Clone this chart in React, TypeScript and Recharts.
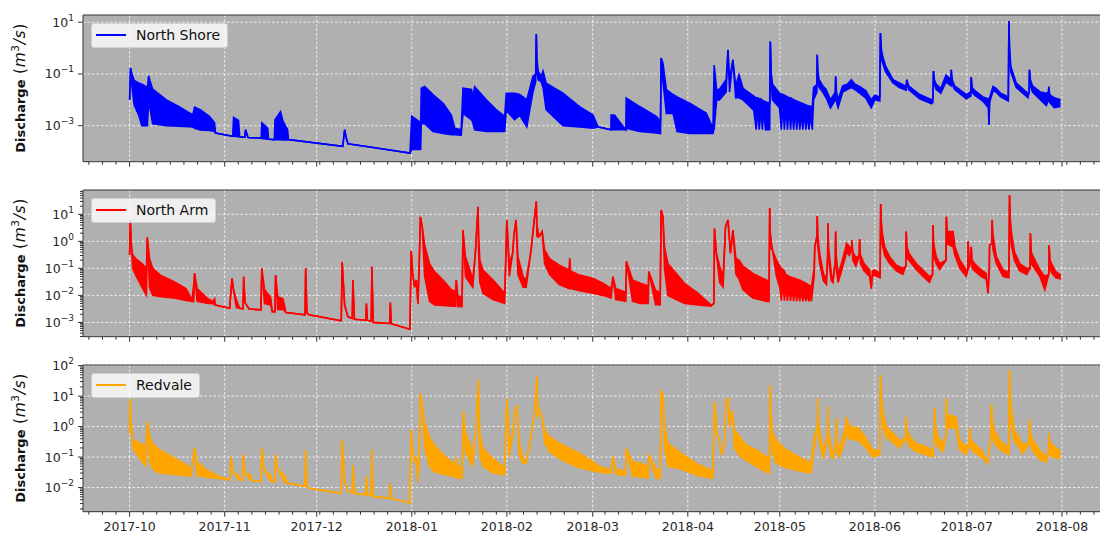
import React from 'react';
import { ComposedChart, Area, XAxis, YAxis, CartesianGrid, ReferenceLine } from 'recharts';

// x values are day offsets from 2017-10-01
const monthTickDays = [0, 31, 61, 92, 123, 151, 182, 212, 243, 273, 304];
const monthTickLabels = ['2017-10', '2017-11', '2017-12', '2018-01', '2018-02', '2018-03', '2018-04', '2018-05', '2018-06', '2018-07', '2018-08'];
const seriesNames = ['North Shore', 'North Arm', 'Redvale'];
const seriesColors = ['#0000ff', '#ff0000', '#ffa500'];
const yMajorNS = [0.001, 0.1, 10];
const yMajorNA = [0.001, 0.01, 0.1, 1, 10];
const yMajorRV = [0.01, 0.1, 1, 10, 100];

// [day, high, low?]  discharge in m3/s
const northShore: number[][] = [
  [0, 0.01], [0.3, 0.17], [0.8, 0.1, 0.03], [1.5, 0.056, 0.0063], [3, 0.045, 0.0025], [4, 0.04, 0.001],
  [5.8, 0.03, 0.001], [6.2, 0.085, 0.01], [6.6, 0.056, 0.005], [7.5, 0.026, 0.0012], [12, 0.01, 0.001],
  [16, 0.0055, 0.00095], [20.6, 0.0026, 0.0009], [21.2, 0.0052, 0.0008], [23, 0.0042, 0.00068],
  [26, 0.0023, 0.00066], [27.7, 0.0013, 0.0006], [28, 0.00052], [33.6, 0.00039], [33.9, 0.0021, 0.00039],
  [35.5, 0.0016, 0.00038], [35.9, 0.00037], [37.6, 0.00036], [37.8, 0.0007], [38.6, 0.00035],
  [42.9, 0.00033], [43.1, 0.0013, 0.00032], [45, 0.0008, 0.0003], [45.3, 0.0003], [47.2, 0.00029],
  [47.4, 0.0017, 0.00029], [49.2, 0.0035, 0.00029], [50, 0.0015, 0.00028], [51.5, 0.0007, 0.00028],
  [51.8, 0.00029], [69.5, 0.00016], [70.1, 0.0007], [70.6, 0.00035], [71.2, 0.0002], [79.4, 0.000145],
  [91.4, 0.000087], [92, 0.0023, 0.00012], [94.9, 0.0013, 0.00012], [95.1, 0.028, 0.0012],
  [96.2, 0.033, 0.0012], [98.9, 0.016, 0.0006], [102.2, 0.0074, 0.0005], [104.9, 0.0026, 0.00045],
  [106, 0.0008, 0.00045], [108.1, 0.0007, 0.00043], [108.7, 0.028, 0.003], [111.5, 0.025, 0.0017],
  [111.9, 0.012, 0.0013], [112.5, 0.032, 0.0007], [116.3, 0.01, 0.0006], [119.5, 0.0042, 0.0006],
  [122.3, 0.0023, 0.0006], [122.8, 0.018, 0.004], [125.5, 0.018, 0.0017], [127.2, 0.016, 0.0025],
  [129.5, 0.01, 0.0009], [131.5, 0.08, 0.02], [132.4, 0.1, 0.05], [132.6, 3.5], [132.8, 0.4, 0.15],
  [133.2, 0.13, 0.06], [134.2, 0.08, 0.05], [134.8, 0.13, 0.03], [135.8, 0.044, 0.0042],
  [141.3, 0.018, 0.001], [146.7, 0.0055, 0.0009], [151.1, 0.0026, 0.0008], [152.7, 0.0009],
  [156.9, 0.0007], [157, 0.0026, 0.0007], [158.1, 0.0026, 0.0007], [159.8, 0.0014, 0.0007],
  [161.8, 0.0007], [161.9, 0.0118, 0.0008], [166.3, 0.0055, 0.0006], [171.7, 0.0023, 0.00052],
  [173.1, 0.0015, 0.0005], [173.3, 0.41], [173.9, 0.26, 0.05], [175, 0.025, 0.003], [177.2, 0.016, 0.003],
  [178.5, 0.013, 0.0006], [182.6, 0.0074, 0.0005], [188, 0.0031, 0.0005], [190.2, 0.0008, 0.0005],
  [190.6, 0.22, 0.0008], [191.4, 0.025, 0.01], [192.3, 0.025, 0.01], [194.5, 0.06, 0.02], [195.1, 0.85],
  [195.6, 0.06, 0.02], [196.7, 0.35], [197.6, 0.035, 0.012], [198.7, 0.093, 0.012], [200, 0.028, 0.01],
  [203.5, 0.014, 0.004], [204.3, 0.012, 0.0007], [204.8, 0.012, 0.004], [205.3, 0.011, 0.0007],
  [205.8, 0.011, 0.004], [206.3, 0.0095, 0.0007], [206.8, 0.009, 0.004], [207.3, 0.0085, 0.0007],
  [207.8, 0.008, 0.0007], [208.7, 0.0074, 0.0007], [208.9, 1.8], [209.2, 0.12, 0.04], [209.6, 0.04, 0.01],
  [211.9, 0.018, 0.005], [212.5, 0.017, 0.0007], [213, 0.016, 0.006], [213.5, 0.015, 0.0007],
  [214, 0.014, 0.005], [214.5, 0.013, 0.0007], [215, 0.012, 0.005], [215.5, 0.012, 0.0007],
  [216, 0.011, 0.004], [216.5, 0.01, 0.0007], [217, 0.0095, 0.004], [217.5, 0.009, 0.0007],
  [218, 0.0085, 0.0035], [218.5, 0.008, 0.0007], [219, 0.0076, 0.003], [219.5, 0.0072, 0.0007],
  [220, 0.0068, 0.003], [220.5, 0.0064, 0.0007], [221, 0.006, 0.0027], [221.5, 0.0058, 0.0007],
  [222, 0.0056, 0.0025], [222.6, 0.0055, 0.0007], [223, 0.03, 0.01], [224.1, 0.04, 0.02], [224.2, 0.55],
  [224.4, 0.12, 0.06], [224.8, 0.06, 0.03], [226, 0.035, 0.02], [227.1, 0.025, 0.012],
  [228.5, 0.01, 0.0048], [230.1, 0.02, 0.01], [230.2, 0.08], [230.5, 0.02, 0.008], [231, 0.01, 0.005],
  [232.5, 0.035, 0.02], [234, 0.04, 0.025], [235.3, 0.06, 0.03], [236.5, 0.04, 0.025],
  [238, 0.033, 0.018], [240, 0.023, 0.012], [241.8, 0.01, 0.005], [243, 0.015, 0.01],
  [244.6, 0.013, 0.009], [244.8, 3.8], [245.1, 0.9, 0.4], [245.6, 0.45, 0.25], [246.5, 0.2, 0.12],
  [248.9, 0.06, 0.045], [251, 0.045, 0.03], [253.2, 0.033, 0.024], [253.4, 0.06], [254, 0.035, 0.025],
  [257.6, 0.016, 0.011], [261.5, 0.01, 0.007], [261.9, 0.011, 0.008], [262.1, 0.13], [262.4, 0.06, 0.04],
  [263, 0.04, 0.025], [264.5, 0.028, 0.018], [266.2, 0.09, 0.05], [267.8, 0.06, 0.035], [267.9, 0.145],
  [268.2, 0.06, 0.04], [269, 0.035, 0.025], [272.8, 0.016, 0.011], [274.3, 0.02, 0.014], [274.4, 0.076],
  [274.7, 0.03, 0.02], [275.5, 0.023, 0.015], [278.2, 0.013, 0.009], [280, 0.011, 0.005],
  [280.2, 0.0011], [280.4, 0.012, 0.008], [281.5, 0.033, 0.022], [282.5, 0.028, 0.02],
  [284, 0.018, 0.013], [286.5, 0.013, 0.009], [286.7, 11], [286.9, 1.2, 0.5], [287.3, 0.2, 0.12],
  [289.1, 0.044, 0.03], [292.9, 0.018, 0.012], [293.3, 0.02], [293.4, 0.145], [293.7, 0.06, 0.035],
  [294.4, 0.035, 0.02], [297, 0.02, 0.01], [298.9, 0.018, 0.006], [299.6, 0.02, 0.01], [299.7, 0.032],
  [300, 0.016, 0.008], [301.5, 0.012, 0.005], [303.5, 0.01, 0.0055],
];

const northArm: number[][] = [
  [0, 0.31], [0.2, 6.2], [0.6, 0.63], [1, 0.31, 0.1], [2, 0.23, 0.056], [4, 0.15, 0.02], [5.5, 0.1, 0.01],
  [5.75, 1.4], [6.5, 0.23, 0.02], [7.5, 0.1, 0.01], [10, 0.056, 0.009], [14.5, 0.032, 0.008],
  [18.4, 0.018, 0.0065], [20.3, 0.0068, 0.006], [20.9, 0.024, 0.006], [21.2, 0.065], [22, 0.018, 0.006],
  [24, 0.011, 0.0055], [25.5, 0.0075, 0.005], [27.2, 0.0059, 0.005], [27.7, 0.0075, 0.0045], [28, 0.0044],
  [32.6, 0.0033], [33.4, 0.043], [33.8, 0.018], [34.8, 0.0069, 0.0035], [35.9, 0.0033], [37, 0.0032],
  [37.2, 0.049], [37.6, 0.0054], [39, 0.0031], [42.8, 0.0029], [43.1, 0.1], [44, 0.016, 0.005],
  [46, 0.0085, 0.0044], [46.5, 0.0025], [47.4, 0.0025], [47.6, 0.056], [48.3, 0.0089, 0.003],
  [50, 0.0075, 0.003], [51, 0.0023], [57.2, 0.0019], [57.4, 0.1], [57.8, 0.0023], [58.5, 0.0019],
  [69, 0.00115], [69.3, 0.17], [70.1, 0.0044], [71.2, 0.0016], [72.6, 0.0014], [72.8, 0.037],
  [73.3, 0.0013], [77, 0.0012], [77.2, 0.005], [77.5, 0.0012], [78.8, 0.0011], [79, 0.115], [79.4, 0.001],
  [84.8, 0.00091], [85, 0.0054], [85.3, 0.00089], [91.4, 0.00056], [91.8, 0.45], [92.3, 0.065],
  [92.9, 0.02], [93.5, 0.037], [94, 0.005], [94.4, 0.11], [94.8, 8.1], [95.4, 3.5], [96.2, 0.72, 0.05],
  [97.8, 0.15, 0.006], [99.4, 0.076, 0.0044], [102.2, 0.037, 0.0042], [104.9, 0.016, 0.004],
  [106.3, 0.014, 0.004], [106.5, 0.037], [107, 0.01, 0.0039], [108.4, 0.008, 0.0038], [108.7, 2.6],
  [109.5, 0.27, 0.05], [110.8, 0.1, 0.03], [111.9, 0.037, 0.02], [112.8, 0.48], [113.6, 19],
  [113.8, 1.5, 0.3], [114.2, 0.2, 0.03], [115.2, 0.087, 0.012], [118.5, 0.037, 0.007], [122.3, 0.012, 0.005],
  [123, 6.2], [123.8, 0.15, 0.05], [124.9, 0.36], [125.3, 1.7], [126, 6.2], [126.6, 0.27, 0.06],
  [128.3, 0.049, 0.02], [129.3, 0.037, 0.02], [130.9, 0.48], [131.7, 3.5], [132.6, 30], [132.8, 4, 1.5],
  [133.5, 1.5], [134.5, 2.3], [135.3, 0.48, 0.15], [136.9, 0.23, 0.06], [140.1, 0.13, 0.025],
  [143.3, 0.087, 0.018], [143.5, 0.23], [143.8, 0.08, 0.018], [146.7, 0.056, 0.015], [151, 0.043, 0.012],
  [154.3, 0.028, 0.01], [157, 0.018, 0.008], [157.6, 0.049], [158.5, 0.018, 0.007], [161.8, 0.013, 0.006],
  [162, 0.18], [164, 0.037, 0.006], [166.6, 0.028, 0.005], [169.1, 0.022, 0.005], [169.3, 0.076],
  [171.5, 0.015, 0.0045], [173, 0.013, 0.0044], [173.3, 14.5], [173.9, 8.1], [174.4, 0.63, 0.1],
  [175.5, 0.15, 0.01], [180.9, 0.028, 0.005], [185.3, 0.012, 0.0044], [189.6, 0.0044, 0.004],
  [190.5, 0.005], [190.7, 3.0], [191.3, 0.36], [192.4, 0.12, 0.03], [193.5, 0.049, 0.02], [194.3, 3.5],
  [195.1, 6.2], [195.9, 0.36], [196.7, 2.6], [197.7, 0.23, 0.06], [198.7, 0.2, 0.04], [200, 0.12, 0.016],
  [203.2, 0.065, 0.008], [207.6, 0.037, 0.006], [208.5, 0.033, 0.006], [208.7, 17], [208.9, 2, 0.6],
  [209.6, 0.48], [210.9, 0.2, 0.05], [212, 0.12, 0.02], [212.5, 0.1, 0.0063], [213, 0.09, 0.03],
  [213.5, 0.08, 0.0063], [214, 0.056, 0.022], [214.5, 0.055, 0.0062], [215, 0.05, 0.02],
  [215.5, 0.048, 0.0062], [216, 0.046, 0.018], [216.5, 0.044, 0.0061], [217, 0.042, 0.016],
  [217.5, 0.04, 0.0061], [218, 0.038, 0.015], [218.5, 0.037, 0.006], [219, 0.034, 0.014],
  [219.5, 0.032, 0.006], [220, 0.03, 0.012], [220.5, 0.028, 0.006], [221, 0.026, 0.011],
  [221.5, 0.024, 0.006], [222, 0.022, 0.01], [222.3, 0.021, 0.006], [223.2, 0.1, 0.05], [223.4, 0.63],
  [224.1, 1.5], [224.2, 8.7], [224.4, 1.5, 0.6], [225, 0.36, 0.15], [226.2, 0.065, 0.035],
  [227.2, 0.04, 0.025], [227.6, 0.3], [227.7, 4.7], [227.9, 0.6, 0.2], [228.8, 0.065, 0.035], [229.3, 0.03],
  [230.1, 0.2], [230.2, 2.3], [230.4, 0.3, 0.1], [231, 0.06, 0.03], [232.1, 0.15, 0.08], [233.5, 0.6, 0.3],
  [233.7, 0.85, 0.4], [234.7, 0.63, 0.3], [235.4, 0.5], [235.5, 1.1], [235.8, 0.4, 0.2],
  [236.8, 0.25, 0.12], [237.9, 0.3], [238, 1.2], [238.3, 0.3, 0.15], [239.5, 0.15, 0.08],
  [241.3, 0.087, 0.05], [241.8, 0.018], [242.2, 0.08, 0.05], [242.9, 0.087, 0.055], [244.7, 0.065, 0.045],
  [244.9, 24], [245.1, 5], [245.4, 2.0, 0.8], [246.2, 0.63, 0.3], [247.8, 0.27, 0.15], [250, 0.13, 0.08],
  [252.1, 0.1, 0.06], [253.1, 0.12], [253.2, 2.3], [253.5, 0.6, 0.25], [254.1, 0.36, 0.2],
  [256.5, 0.15, 0.09], [258.7, 0.087, 0.05], [260.8, 0.049, 0.03], [261.8, 0.06], [261.9, 4.0],
  [262.2, 0.8, 0.3], [263, 0.27, 0.15], [264.1, 0.15, 0.09], [266.2, 0.2], [266.3, 8.1], [266.6, 2.3, 0.8],
  [268.5, 2.3, 0.63], [269.1, 0.63, 0.3], [270.7, 0.2, 0.1], [272.8, 0.087, 0.05], [273.3, 0.09],
  [273.4, 1.0], [273.7, 0.2, 0.1], [274.3, 0.2], [274.4, 0.63], [274.7, 0.2, 0.1], [275.5, 0.15, 0.08],
  [277.7, 0.087, 0.05], [279.3, 0.065, 0.04], [279.9, 0.012], [280.3, 0.1], [280.4, 0.72], [281.1, 0.8],
  [281.2, 6.2], [281.5, 1.7, 0.5], [282.6, 0.27, 0.15], [284.8, 0.087, 0.05], [286.7, 0.072, 0.045],
  [286.9, 52], [287.1, 8], [287.4, 2.6, 0.8], [288.5, 0.42, 0.2], [290.2, 0.15, 0.08], [292.5, 0.1, 0.06],
  [293.6, 0.1], [293.7, 2.0], [294, 0.4, 0.15], [294.6, 0.27, 0.12], [296.8, 0.087, 0.05],
  [298.4, 0.05, 0.016], [299.7, 0.06], [299.8, 0.72], [300.1, 0.2, 0.1], [300.6, 0.15, 0.07],
  [302, 0.076, 0.045], [303.6, 0.056, 0.04],
];

const redvale: number[][] = [
  [0, 0.6], [0.2, 8], [0.6, 1.0], [1, 0.36, 0.2], [3, 0.3, 0.1], [5.3, 0.22, 0.05], [5.75, 1.45],
  [6.5, 0.5, 0.08], [7.5, 0.28, 0.04], [9.8, 0.17, 0.03], [14.1, 0.1, 0.027], [18.5, 0.055, 0.025],
  [20.1, 0.038, 0.023], [21.2, 0.2], [22, 0.07, 0.025], [25, 0.038, 0.022], [29.3, 0.023, 0.02],
  [32.6, 0.018], [33.1, 0.1], [33.6, 0.033], [35.5, 0.025, 0.018], [36, 0.018], [36.8, 0.018], [37, 0.12],
  [37.6, 0.03], [39.5, 0.025, 0.017], [40, 0.017], [42.9, 0.016], [43.1, 0.2], [43.8, 0.04],
  [46, 0.025, 0.016], [46.5, 0.016], [47.4, 0.016], [47.6, 0.12], [48.3, 0.04], [50.5, 0.025, 0.015],
  [51.5, 0.014], [57.2, 0.011], [57.4, 0.17], [57.8, 0.011], [58.5, 0.0095], [69, 0.0065], [69.3, 0.36],
  [70.1, 0.017], [71.2, 0.0075], [72.6, 0.0068], [72.8, 0.055], [73.3, 0.0065], [77, 0.0058],
  [77.2, 0.023], [77.6, 0.0058], [78.8, 0.0055], [79, 0.17], [79.4, 0.005], [84.8, 0.0045], [85, 0.014],
  [85.3, 0.0044], [91.4, 0.0031], [91.8, 0.78], [92.3, 0.15], [92.9, 0.07], [93.5, 0.1], [94, 0.016],
  [94.4, 0.15], [94.8, 12], [95.4, 5.1], [96.2, 1.45, 0.2], [97.8, 0.42, 0.05], [99.4, 0.25, 0.033],
  [102.2, 0.12, 0.028], [104.9, 0.07, 0.024], [106.3, 0.06, 0.022], [106.5, 0.1], [106.8, 0.055, 0.021],
  [108.4, 0.043, 0.02], [108.9, 3.1], [109.5, 0.6, 0.15], [110.8, 0.3, 0.08], [111.9, 0.135, 0.05],
  [112.8, 0.6], [113.7, 34], [113.9, 3, 0.6], [114.3, 0.53, 0.1], [115.2, 0.19, 0.05], [118.5, 0.09, 0.03],
  [122.3, 0.043, 0.026], [123, 8.5], [123.8, 0.32, 0.1], [125, 0.6], [125.5, 2.75], [126.3, 5.1],
  [127, 0.32, 0.12], [128.2, 0.1, 0.063], [129.2, 0.063], [131, 0.54], [132.1, 3.5], [132.8, 44],
  [133, 6, 2], [133.7, 3.1], [134.5, 2.1], [135.3, 0.75, 0.3], [136.9, 0.47, 0.15], [140.2, 0.28, 0.09],
  [143.5, 0.19, 0.06], [146.7, 0.135, 0.045], [151.1, 0.07, 0.035], [153.2, 0.049, 0.032],
  [157, 0.038, 0.03], [157.6, 0.105], [158.5, 0.04, 0.028], [161.7, 0.035, 0.025], [161.9, 0.19],
  [164, 0.07, 0.024], [167, 0.06, 0.022], [169.1, 0.05, 0.021], [169.3, 0.12], [171.7, 0.04, 0.02],
  [173, 0.035, 0.02], [173.3, 14], [173.9, 11], [174.5, 1.1, 0.2], [175.5, 0.28, 0.05], [180, 0.13, 0.04],
  [185, 0.06, 0.025], [190.2, 0.035, 0.02], [190.7, 6.6], [191.5, 0.6], [192.3, 0.37], [192.9, 0.12],
  [194, 0.3], [194.5, 7.4], [195.1, 8.5], [195.6, 1.0], [196.5, 3.5], [197.2, 0.78, 0.2],
  [198.9, 0.47, 0.11], [201, 0.25, 0.08], [204.3, 0.17, 0.05], [207.6, 0.105, 0.032], [208.6, 0.1, 0.03],
  [208.9, 23], [209.1, 3, 0.8], [209.6, 0.6, 0.15], [210.8, 0.36, 0.063], [214.1, 0.17, 0.045],
  [218.4, 0.1, 0.035], [222.2, 0.063, 0.03], [223.2, 0.47, 0.2], [224.3, 1.0], [224.4, 8.5],
  [224.6, 1.5, 0.5], [225.3, 0.47, 0.2], [226.2, 0.17, 0.09], [227.6, 0.5], [227.7, 4.6], [227.9, 0.8, 0.3],
  [228.8, 0.17, 0.1], [229.5, 0.135, 0.09], [230.3, 0.3], [230.4, 1.9], [230.6, 0.4, 0.15],
  [231.5, 0.17, 0.1], [233.4, 1.0, 0.4], [233.6, 2.1, 0.6], [234.7, 1.0, 0.4], [237.5, 0.9, 0.35],
  [239.8, 0.47, 0.22], [242.3, 0.17, 0.1], [244.6, 0.17, 0.12], [244.8, 49], [245, 12], [245.6, 3, 1],
  [246.7, 1.0, 0.45], [248.9, 0.6, 0.3], [251, 0.36, 0.2], [253.1, 0.4], [253.2, 2.1], [253.5, 0.8, 0.35],
  [254.3, 0.47, 0.22], [256.5, 0.28, 0.15], [259.7, 0.22, 0.12], [261.9, 0.15, 0.1], [262.4, 0.4],
  [262.5, 4.0], [262.8, 1.0, 0.4], [263.6, 0.47, 0.22], [265.2, 0.28, 0.15], [266.2, 0.5], [266.3, 8.5],
  [266.6, 2.5, 0.9], [269.5, 2.0, 0.9], [270.5, 0.36, 0.18], [272.8, 0.22, 0.12], [273.8, 0.3],
  [273.9, 0.9], [274.2, 0.4, 0.2], [275, 0.3, 0.15], [277.7, 0.17, 0.1], [279.8, 0.063], [280.8, 0.6],
  [281, 5.3], [281.3, 1.5, 0.5], [281.9, 0.78, 0.3], [283.6, 0.36, 0.18], [286.7, 0.2, 0.12], [286.9, 72],
  [287.1, 15], [287.4, 4.6, 1.2], [288.4, 0.78, 0.35], [291.3, 0.25, 0.13], [293.3, 0.3], [293.4, 1.7],
  [293.7, 0.6, 0.25], [294.5, 0.36, 0.16], [296.7, 0.17, 0.085], [298.9, 0.1, 0.07], [299.6, 0.15],
  [299.7, 0.6], [300, 0.3, 0.12], [300.9, 0.25, 0.1], [303.5, 0.15, 0.09],
];

const FRAME = '#333333';
const FONT = '"DejaVu Sans", Verdana, sans-serif';
const X_DOMAIN: [number, number] = [-15.2, 319.2];
const CHART_W = 1114;
const PLOT_LEFT = 83;

const minorStep = 31 / 7;
const xMinor: number[] = [];
for (let k = -3; k * minorStep <= X_DOMAIN[1]; k++) {
  const v = k * minorStep;
  if (v >= X_DOMAIN[0] && !monthTickDays.some((m) => Math.abs(m - v) < 0.6)) xMinor.push(Number(v.toFixed(3)));
}
const xTicks = [...monthTickDays, ...xMinor].sort((a, b) => a - b);

function logMinors(domain: number[]) {
  const out: number[] = [];
  for (let n = -6; n <= 3; n++) {
    for (let k = 2; k <= 9; k++) {
      const v = Number((k * Math.pow(10, n)).toPrecision(3));
      if (v > domain[0] && v < domain[1]) out.push(v);
    }
  }
  return out;
}

const XTick = (props: any) => {
  const { x, y, payload, showLabels } = props;
  const idx = monthTickDays.indexOf(payload.value);
  const major = idx >= 0;
  return (
    <g>
      <line x1={x} x2={x} y1={y} y2={y + (major ? 5 : 3)} stroke={FRAME} strokeWidth={1} />
      {major && showLabels ? (
        <text x={x} y={y + 14.5} textAnchor="middle" dominantBaseline="central" fontSize={12.5} fontFamily={FONT} fill="#262626">
          {monthTickLabels[idx]}
        </text>
      ) : null}
    </g>
  );
};

const YTick = (props: any) => {
  const { x, y, payload, majors } = props;
  const v = payload.value;
  const major = majors.some((m: number) => Math.abs(m - v) / m < 1e-6);
  const exp = Math.round(Math.log10(v));
  return (
    <g>
      <line x1={x} x2={x - (major ? 5 : 3)} y1={y} y2={y} stroke={FRAME} strokeWidth={1} />
      {major ? (
        <text x={x - 9} y={y + 4.5} textAnchor="end" fontSize={12.5} fontFamily={FONT} fill="#262626">
          10
          <tspan dy={-6} fontSize={9}>{exp < 0 ? '\u2212' + Math.abs(exp) : String(exp)}</tspan>
        </text>
      ) : null}
    </g>
  );
};

type PanelProps = {
  data: number[][];
  idx: number;
  domain: [number, number];
  yMajor: number[];
  minorY: boolean;
  showXLabels: boolean;
  top: number;
  height: number;
  xAxisHeight: number;
};

function Panel({ data, idx, domain, yMajor, minorY, showXLabels, top, height, xAxisHeight }: PanelProps) {
  const rows = data.map((p) => ({ d: p[0], hi: p[1], lo: p.length > 2 ? p[2] : p[1] }));
  const yTicks = [...yMajor, ...(minorY ? logMinors(domain) : [])].sort((a, b) => a - b);
  const color = seriesColors[idx];
  const plotTop = top + 15;
  return (
    <>
      <div style={{ position: 'absolute', left: 0, top, width: CHART_W, height }}>
        <ComposedChart width={CHART_W} height={height} data={rows} margin={{ top: 15, right: 5.4, bottom: 0, left: 0 }}>
          <CartesianGrid
            fill="#b0b0b0"
            fillOpacity={1}
            stroke="#ffffff"
            strokeDasharray="2.5 2"
            strokeWidth={0.8}
            horizontalValues={yMajor}
            verticalValues={monthTickDays}
          />
          <XAxis
            dataKey="d"
            type="number"
            domain={X_DOMAIN}
            allowDataOverflow
            ticks={xTicks}
            interval={0}
            tickSize={0}
            tickMargin={0}
            tickLine={false}
            axisLine={{ stroke: FRAME, strokeWidth: 1 }}
            height={xAxisHeight}
            tick={<XTick showLabels={showXLabels} />}
          />
          <YAxis
            type="number"
            scale="log"
            domain={domain}
            allowDataOverflow
            ticks={yTicks}
            interval={0}
            width={PLOT_LEFT}
            tickSize={0}
            tickMargin={0}
            tickLine={false}
            axisLine={{ stroke: FRAME, strokeWidth: 1 }}
            tick={<YTick majors={yMajor} />}
          />
          <Area
            type="linear"
            dataKey={(r: any) => [r.lo, r.hi]}
            stroke={color}
            strokeWidth={1.6}
            fill={color}
            fillOpacity={1}
            isAnimationActive={false}
            dot={false}
            activeDot={false}
          />
          <ReferenceLine y={domain[1]} stroke={FRAME} strokeWidth={1} />
        </ComposedChart>
      </div>
      <div
        style={{
          position: 'absolute',
          left: 20,
          top: plotTop + 73.3,
          transform: 'translate(-50%, -50%) rotate(-90deg)',
          whiteSpace: 'nowrap',
          fontFamily: FONT,
          fontSize: 13,
          color: '#111',
          lineHeight: '18px',
        }}
      >
        <span style={{ fontWeight: 'bold' }}>Discharge</span>
        <span style={{ fontSize: 15.5, letterSpacing: 0.6 }}>
          {' ('}
          <span style={{ fontStyle: 'italic' }}>m</span>
          <span style={{ fontSize: 10.5, position: 'relative', top: -6 }}>3</span>
          <span style={{ fontStyle: 'italic' }}>/s</span>
          {')'}
        </span>
      </div>
      <div
        style={{
          position: 'absolute',
          left: 91,
          top: plotTop + 7.7,
          height: 25,
          boxSizing: 'border-box',
          display: 'flex',
          alignItems: 'center',
          padding: '0 7px 0 4px',
          background: 'rgba(255,255,255,0.8)',
          border: '1px solid #d0d0d0',
          borderRadius: 3,
          fontFamily: FONT,
          fontSize: 14,
          color: '#111',
          whiteSpace: 'nowrap',
        }}
      >
        <span style={{ display: 'inline-block', width: 30, height: 2, background: color, marginRight: 10 }} />
        <span>{seriesNames[idx]}</span>
      </div>
    </>
  );
}

export default function App() {
  return (
    <div style={{ position: 'absolute', left: 0, top: 0, width: 1100, height: 535, overflow: 'hidden', background: '#ffffff' }}>
      <Panel data={northShore} idx={0} domain={[4.07e-5, 19]} yMajor={yMajorNS} minorY={false} showXLabels={false} top={0} height={180} xAxisHeight={18.3} />
      <Panel data={northArm} idx={1} domain={[2.95e-4, 79.4]} yMajor={yMajorNA} minorY={true} showXLabels={false} top={175} height={180} xAxisHeight={18.3} />
      <Panel data={redvale} idx={2} domain={[1.62e-3, 104.7]} yMajor={yMajorRV} minorY={true} showXLabels={true} top={350} height={185} xAxisHeight={23.3} />
    </div>
  );
}
